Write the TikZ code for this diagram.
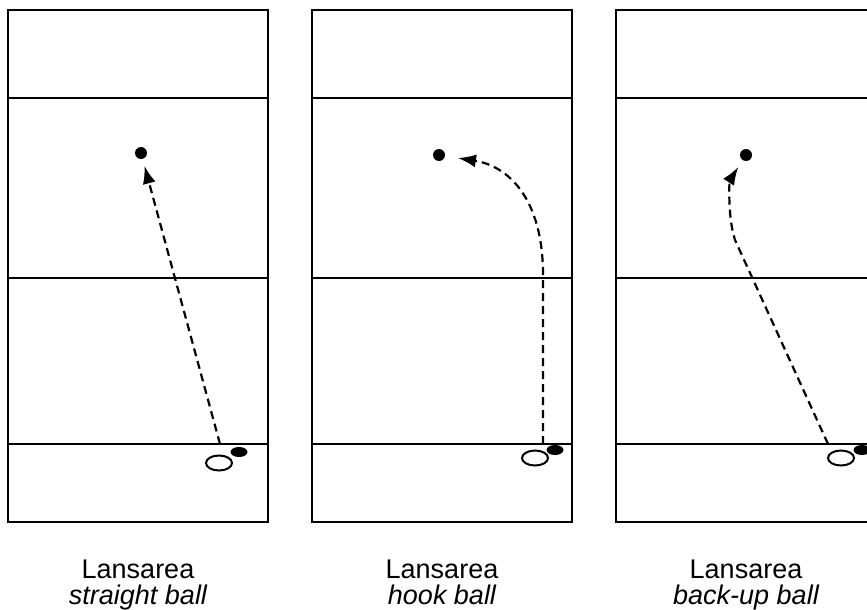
\documentclass[tikz,border=0pt]{standalone}
\usepackage{fontspec}
\setmainfont{Liberation Sans}
\usetikzlibrary{arrows.meta}

\begin{document}
\begin{tikzpicture}[x=1pt,y=-1pt,
	lane/.style={line width=2.2pt},
	throw/.style={line width=2.2pt, dash pattern=on 8pt off 5pt, -{Latex[length=18pt,width=13pt]}},
	pin/.style={circle, fill=black, inner sep=0pt, minimum size=12pt},
	lbl/.style={anchor=base, font=\fontsize{27}{31}\selectfont}]
	\useasboundingbox (0,0) rectangle (867,610);
	\clip (0,0) rectangle (867,610);
	% lane 1
	\draw[lane] (8,10) rectangle (268,522);
	\draw[lane] (8,98) -- (268,98);
	\draw[lane] (8,278) -- (268,278);
	\draw[lane] (8,444) -- (268,444);
	% lane 2
	\draw[lane] (312,10) rectangle (572,522);
	\draw[lane] (312,98) -- (572,98);
	\draw[lane] (312,278) -- (572,278);
	\draw[lane] (312,444) -- (572,444);
	% lane 3
	\draw[lane] (616,10) rectangle (876,522);
	\draw[lane] (616,98) -- (876,98);
	\draw[lane] (616,278) -- (876,278);
	\draw[lane] (616,444) -- (876,444);
	% pins
	\node[pin] (pinA) at (141,153) {};
	\node[pin] (pinB) at (439,155) {};
	\node[pin] (pinC) at (746,155) {};
	% bowlers
	\fill (239,452) ellipse [x radius=8.5, y radius=5];
	\draw[line width=2pt, fill=white] (219,463) ellipse [x radius=13, y radius=7.5];
	\fill (555,450) ellipse [x radius=8.5, y radius=5];
	\draw[line width=2pt, fill=white] (535,458) ellipse [x radius=13, y radius=7.5];
	\fill (862,450) ellipse [x radius=8.5, y radius=5];
	\draw[line width=2pt, fill=white] (841,458) ellipse [x radius=13, y radius=7.5];
	% release points
	\coordinate (relA) at (220,444);
	\coordinate (relB) at (543,444);
	\coordinate (relC) at (828,444);
	% throws
	\draw[throw, shorten >=7pt] (relA) -- (pinA);
	\draw[throw, shorten >=13pt] (relB) -- (543,275) .. controls (543,198) and (508,166) .. (pinB);
	\draw[throw, shorten >=8pt] (relC) -- (735,240) .. controls (727,215) and (730,180) .. (pinC);
	% labels
	\node[lbl] (nameA) at (138,578) {Lansarea};
	\node[lbl] (kindA) at (138,604) {\itshape straight ball};
	\node[lbl] (nameB) at (442,578) {Lansarea};
	\node[lbl] (kindB) at (442,604) {\itshape hook ball};
	\node[lbl] (nameC) at (746,578) {Lansarea};
	\node[lbl] (kindC) at (746,604) {\itshape back-up ball};
\end{tikzpicture}
\end{document}
